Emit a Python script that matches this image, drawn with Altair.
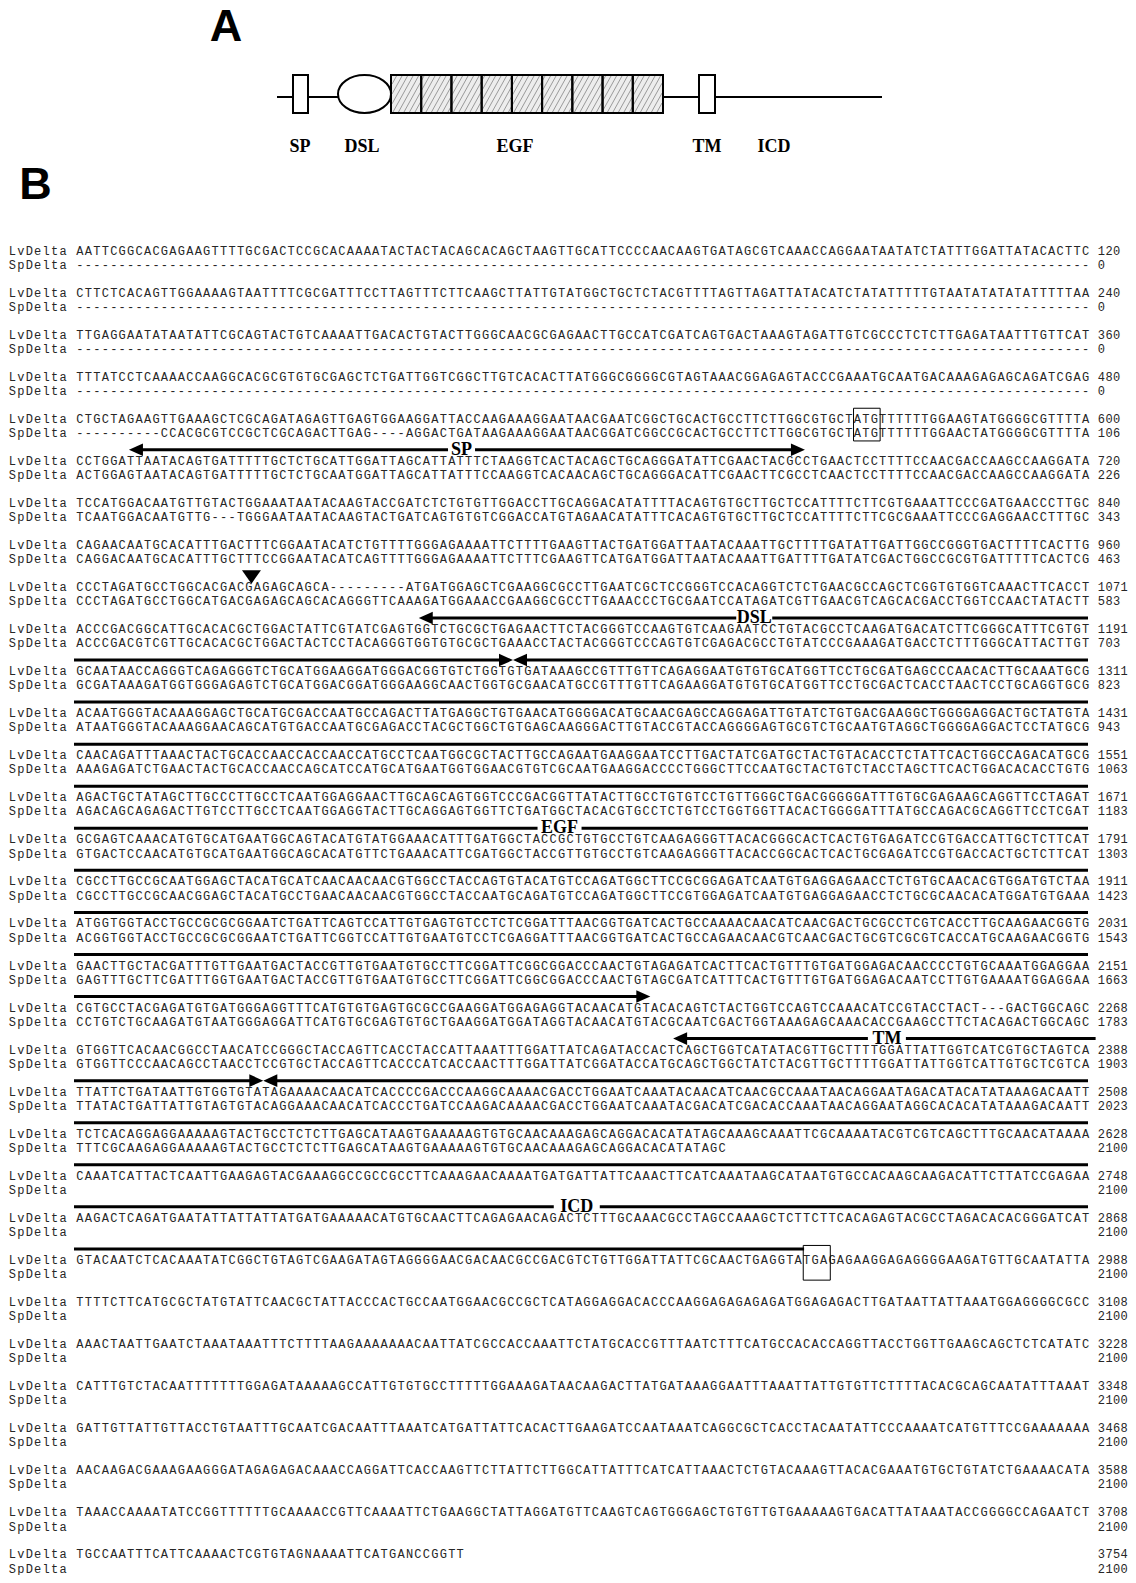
import altair as alt
import numpy as np
import pandas as pd

# ---------------------------------------------------------------- data
LV_SEQS = [
    "AATTCGGCACGAGAAGTTTTGCGACTCCGCACAAAATACTACTACAGCACAGCTAAGTTGCATTCCCCAACAAGTGATAGCGTCAAACCAGGAATAATATCTATTTGGATTATACACTTC",
    "CTTCTCACAGTTGGAAAAGTAATTTTCGCGATTTCCTTAGTTTCTTCAAGCTTATTGTATGGCTGCTCTACGTTTTAGTTAGATTATACATCTATATTTTTGTAATATATATATTTTTAA",
    "TTGAGGAATATAATATTCGCAGTACTGTCAAAATTGACACTGTACTTGGGCAACGCGAGAACTTGCCATCGATCAGTGACTAAAGTAGATTGTCGCCCTCTCTTGAGATAATTTGTTCAT",
    "TTTATCCTCAAAACCAAGGCACGCGTGTGCGAGCTCTGATTGGTCGGCTTGTCACACTTATGGGCGGGGCGTAGTAAACGGAGAGTACCCGAAATGCAATGACAAAGAGAGCAGATCGAG",
    "CTGCTAGAAGTTGAAAGCTCGCAGATAGAGTTGAGTGGAAGGATTACCAAGAAAGGAATAACGAATCGGCTGCACTGCCTTCTTGGCGTGCTATGTTTTTTGGAAGTATGGGGCGTTTTA",
    "CCTGGATTAATACAGTGATTTTTGCTCTGCATTGGATTAGCATTATTTCTAAGGTCACTACAGCTGCAGGGATATTCGAACTACGCCTGAACTCCTTTTCCAACGACCAAGCCAAGGATA",
    "TCCATGGACAATGTTGTACTGGAAATAATACAAGTACCGATCTCTGTGTTGGACCTTGCAGGACATATTTTACAGTGTGCTTGCTCCATTTTCTTCGTGAAATTCCCGATGAACCCTTGC",
    "CAGAACAATGCACATTTGACTTTCGGAATACATCTGTTTTGGGAGAAAATTCTTTTGAAGTTACTGATGGATTAATACAAATTGCTTTTGATATTGATTGGCCGGGTGACTTTTCACTTG",
    "CCCTAGATGCCTGGCACGACGAGAGCAGCA---------ATGATGGAGCTCGAAGGCGCCTTGAATCGCTCCGGGTCCACAGGTCTCTGAACGCCAGCTCGGTGTGGTCAAACTTCACCT",
    "ACCCGACGGCATTGCACACGCTGGACTATTCGTATCGAGTGGTCTGCGCTGAGAACTTCTACGGGTCCAAGTGTCAAGAATCCTGTACGCCTCAAGATGACATCTTCGGGCATTTCGTGT",
    "GCAATAACCAGGGTCAGAGGGTCTGCATGGAAGGATGGGACGGTGTCTGGTGTGATAAAGCCGTTTGTTCAGAGGAATGTGTGCATGGTTCCTGCGATGAGCCCAACACTTGCAAATGCG",
    "ACAATGGGTACAAAGGAGCTGCATGCGACCAATGCCAGACTTATGAGGCTGTGAACATGGGGACATGCAACGAGCCAGGAGATTGTATCTGTGACGAAGGCTGGGGAGGACTGCTATGTA",
    "CAACAGATTTAAACTACTGCACCAACCACCAACCATGCCTCAATGGCGCTACTTGCCAGAATGAAGGAATCCTTGACTATCGATGCTACTGTACACCTCTATTCACTGGCCAGACATGCG",
    "AGACTGCTATAGCTTGCCCTTGCCTCAATGGAGGAACTTGCAGCAGTGGTCCCGACGGTTATACTTGCCTGTGTCCTGTTGGGCTGACGGGGGATTTGTGCGAGAAGCAGGTTCCTAGAT",
    "GCGAGTCAAACATGTGCATGAATGGCAGTACATGTATGGAAACATTTGATGGCTACCGCTGTGCCTGTCAAGAGGGTTACACGGGCACTCACTGTGAGATCCGTGACCATTGCTCTTCAT",
    "CGCCTTGCCGCAATGGAGCTACATGCATCAACAACAACGTGGCCTACCAGTGTACATGTCCAGATGGCTTCCGCGGAGATCAATGTGAGGAGAACCTCTGTGCAACACGTGGATGTCTAA",
    "ATGGTGGTACCTGCCGCGCGGAATCTGATTCAGTCCATTGTGAGTGTCCTCTCGGATTTAACGGTGATCACTGCCAAAACAACATCAACGACTGCGCCTCGTCACCTTGCAAGAACGGTG",
    "GAACTTGCTACGATTTGTTGAATGACTACCGTTGTGAATGTGCCTTCGGATTCGGCGGACCCAACTGTAGAGATCACTTCACTGTTTGTGATGGAGACAACCCCTGTGCAAATGGAGGAA",
    "CGTGCCTACGAGATGTGATGGGAGGTTTCATGTGTGAGTGCGCCGAAGGATGGAGAGGTACAACATGTACACAGTCTACTGGTCCAGTCCAAACATCCGTACCTACT---GACTGGCAGC",
    "GTGGTTCACAACGGCCTAACATCCGGGCTACCAGTTCACCTACCATTAAATTTGGATTATCAGATACCACTCAGCTGGTCATATACGTTGCTTTTGGATTATTGGTCATCGTGCTAGTCA",
    "TTATTCTGATAATTGTGGTGTATAGAAAACAACATCACCCCGACCCAAGGCAAAACGACCTGGAATCAAATACAACATCAACGCCAAATAACAGGAATAGACATACATATAAAGACAATT",
    "TCTCACAGGAGGAAAAAGTACTGCCTCTCTTGAGCATAAGTGAAAAAGTGTGCAACAAAGAGCAGGACACATATAGCAAAGCAAATTCGCAAAATACGTCGTCAGCTTTGCAACATAAAA",
    "CAAATCATTACTCAATTGAAGAGTACGAAAGGCCGCCGCCTTCAAAGAACAAAATGATGATTATTCAAACTTCATCAAATAAGCATAATGTGCCACAAGCAAGACATTCTTATCCGAGAA",
    "AAGACTCAGATGAATATTATTATTATGATGAAAAACATGTGCAACTTCAGAGAACAGACTCTTTGCAAACGCCTAGCCAAAGCTCTTCTTCACAGAGTACGCCTAGACACACGGGATCAT",
    "GTACAATCTCACAAATATCGGCTGTAGTCGAAGATAGTAGGGGAACGACAACGCCGACGTCTGTTGGATTATTCGCAACTGAGGTATGAGAGAAGGAGAGGGGAAGATGTTGCAATATTA",
    "TTTTCTTCATGCGCTATGTATTCAACGCTATTACCCACTGCCAATGGAACGCCGCTCATAGGAGGACACCCAAGGAGAGAGAGATGGAGAGACTTGATAATTATTAAATGGAGGGGCGCC",
    "AAACTAATTGAATCTAAATAAATTTCTTTTAAGAAAAAAACAATTATCGCCACCAAATTCTATGCACCGTTTAATCTTTCATGCCACACCAGGTTACCTGGTTGAAGCAGCTCTCATATC",
    "CATTTGTCTACAATTTTTTTGGAGATAAAAAGCCATTGTGTGCCTTTTTGGAAAGATAACAAGACTTATGATAAAGGAATTTAAATTATTGTGTTCTTTTACACGCAGCAATATTTAAAT",
    "GATTGTTATTGTTACCTGTAATTTGCAATCGACAATTTAAATCATGATTATTCACACTTGAAGATCCAATAAATCAGGCGCTCACCTACAATATTCCCAAAATCATGTTTCCGAAAAAAA",
    "AACAAGACGAAAGAAGGGATAGAGAGACAAACCAGGATTCACCAAGTTCTTATTCTTGGCATTATTTCATCATTAAACTCTGTACAAAGTTACACGAAATGTGCTGTATCTGAAAACATA",
    "TAAACCAAAATATCCGGTTTTTTGCAAAACCGTTCAAAATTCTGAAGGCTATTAGGATGTTCAAGTCAGTGGGAGCTGTGTTGTGAAAAAGTGACATTATAAATACCGGGGCCAGAATCT",
    "TGCCAATTTCATTCAAAACTCGTGTAGNAAAATTCATGANCCGGTT",
]
GAP_ROW = "-" * 120
SP_SEQS = [
    GAP_ROW, GAP_ROW, GAP_ROW, GAP_ROW,
    "----------CCACGCGTCCGCTCGCAGACTTGAG----AGGACTGATAAGAAAGGAATAACGGATCGGCCGCACTGCCTTCTTGGCGTGCTATGTTTTTTGGAACTATGGGGCGTTTTA",
    "ACTGGAGTAATACAGTGATTTTTGCTCTGCAATGGATTAGCATTATTTCCAAGGTCACAACAGCTGCAGGGACATTCGAACTTCGCCTCAACTCCTTTTCCAACGACCAAGCCAAGGATA",
    "TCAATGGACAATGTTG---TGGGAATAATACAAGTACTGATCAGTGTGTCGGACCATGTAGAACATATTTCACAGTGTGCTTGCTCCATTTTCTTCGCGAAATTCCCGAGGAACCTTTGC",
    "CAGGACAATGCACATTTGCTTTCCGGAATACATCAGTTTTGGGAGAAAATTCTTTCGAAGTTCATGATGGATTAATACAAATTGATTTTGATATCGACTGGCCGCGTGATTTTTCACTCG",
    "CCCTAGATGCCTGGCATGACGAGAGCAGCACAGGGTTCAAAGATGGAAACCGAAGGCGCCTTGAAACCCTGCGAATCCATAGATCGTTGAACGTCAGCACGACCTGGTCCAACTATACTT",
    "ACCCGACGTCGTTGCACACGCTGGACTACTCCTACAGGGTGGTGTGCGCTGAAACCTACTACGGGTCCCAGTGTCGAGACGCCTGTATCCCGAAAGATGACCTCTTTGGGCATTACTTGT",
    "GCGATAAAGATGGTGGGAGAGTCTGCATGGACGGATGGGAAGGCAACTGGTGCGAACATGCCGTTTGTTCAGAAGGATGTGTGCATGGTTCCTGCGACTCACCTAACTCCTGCAGGTGCG",
    "ATAATGGGTACAAAGGAACAGCATGTGACCAATGCGAGACCTACGCTGGCTGTGAGCAAGGGACTTGTACCGTACCAGGGGAGTGCGTCTGCAATGTAGGCTGGGGAGGACTCCTATGCG",
    "AAAGAGATCTGAACTACTGCACCAACCAGCATCCATGCATGAATGGTGGAACGTGTCGCAATGAAGGACCCCTGGGCTTCCAATGCTACTGTCTACCTAGCTTCACTGGACACACCTGTG",
    "AGACAGCAGAGACTTGTCCTTGCCTCAATGGAGGTACTTGCAGGAGTGGTTCTGATGGCTACACGTGCCTCTGTCCTGGTGGTTACACTGGGGATTTATGCCAGACGCAGGTTCCTCGAT",
    "GTGACTCCAACATGTGCATGAATGGCAGCACATGTTCTGAAACATTCGATGGCTACCGTTGTGCCTGTCAAGAGGGTTACACCGGCACTCACTGCGAGATCCGTGACCACTGCTCTTCAT",
    "CGCCTTGCCGCAACGGAGCTACATGCCTGAACAACAACGTGGCCTACCAATGCAGATGTCCAGATGGCTTCCGTGGAGATCAATGTGAGGAGAACCTCTGCGCAACACATGGATGTGAAA",
    "ACGGTGGTACCTGCCGCGCGGAATCTGATTCGGTCCATTGTGAATGTCCTCGAGGATTTAACGGTGATCACTGCCAGAACAACGTCAACGACTGCGTCGCGTCACCATGCAAGAACGGTG",
    "GAGTTTGCTTCGATTTGGTGAATGACTACCGTTGTGAATGTGCCTTCGGATTCGGCGGACCCAACTGTAGCGATCATTTCACTGTTTGTGATGGAGACAATCCTTGTGAAAATGGAGGAA",
    "CCTGTCTGCAAGATGTAATGGGAGGATTCATGTGCGAGTGTGCTGAAGGATGGATAGGTACAACATGTACGCAATCGACTGGTAAAGAGCAAACACCGAAGCCTTCTACAGACTGGCAGC",
    "GTGGTTCCCAACAGCCTAACCTCCGTGCTACCAGTTCACCCATCACCAACTTTGGATTATCGGATACCATGCAGCTGGCTATCTACGTTGCTTTTGGATTATTGGTCATTGTGCTCGTCA",
    "TTATACTGATTATTGTAGTGTACAGGAAACAACATCACCCTGATCCAAGACAAAACGACCTGGAATCAAATACGACATCGACACCAAATAACAGGAATAGGCACACATATAAAGACAATT",
    "TTTCGCAAGAGGAAAAAGTACTGCCTCTCTTGAGCATAAGTGAAAAAGTGTGCAACAAAGAGCAGGACACATATAGC",
    "", "", "", "", "", "", "", "", "", "",
]
LV_ENDS = [120, 240, 360, 480, 600, 720, 840, 960, 1071, 1191, 1311, 1431, 1551, 1671,
           1791, 1911, 2031, 2151, 2268, 2388, 2508, 2628, 2748, 2868, 2988, 3108, 3228,
           3348, 3468, 3588, 3708, 3754]
SP_ENDS = [0, 0, 0, 0, 106, 226, 343, 463, 583, 703, 823, 943, 1063, 1183, 1303, 1423,
           1543, 1663, 1783, 1903, 2023, 2100, 2100, 2100, 2100, 2100, 2100, 2100, 2100,
           2100, 2100, 2100]
SEQ_NAMES = ["LvDelta", "SpDelta"]

# annotation bars under a block: block, from col, to col, left head, right head, label, label col
ANNOT_BLOCK = [5, 9, 10, 10, 11, 12, 13, 14, 15, 16, 17, 18, 19, 20, 20, 21, 22, 23, 24]
ANNOT_FROM = [6.3, 40.6, -0.2, 51.75, -0.2, -0.2, -0.2, -0.2, -0.2, -0.2, -0.2, -0.2,
              70.7, -0.2, 22.2, -0.2, -0.2, -0.2, -0.2]
ANNOT_TO = [86.3, 119.8, 51.75, 119.8, 119.8, 119.8, 119.8, 119.8, 119.8, 119.8, 119.8,
            68.0, 120.7, 22.2, 119.8, 119.8, 119.8, 119.8, 86.2]
ANNOT_HEAD_L = [1, 1, 0, 1, 0, 0, 0, 0, 0, 0, 0, 0, 1, 0, 1, 0, 0, 0, 0]
ANNOT_HEAD_R = [1, 0, 1, 0, 0, 0, 0, 0, 0, 0, 0, 1, 0, 1, 0, 0, 0, 0, 0]
ANNOT_LABEL = ["SP", "DSL", "", "", "", "", "", "EGF", "", "", "", "", "TM", "", "", "", "", "ICD", ""]
ANNOT_LABEL_COL = [45.66, 80.3, 0, 0, 0, 0, 0, 57.26, 0, 0, 0, 0, 96.0, 0, 0, 0, 0, 59.3, 0]
LABEL_GAP = {"SP": 13.5, "DSL": 18, "EGF": 22, "TM": 19, "ICD": 23}

# boxed codons (start ATG, stop TGA)
BOX_BLOCK = [5, 25]
BOX_FROM = [92.05, 86.1]
BOX_TO = [95.2, 89.3]
BOX_TOP = [-10.5, -14.5]
BOX_BOTTOM = [8.0, 6.0]
# marker triangle
MARK_BLOCK = [9]
MARK_COL = [20.8]

# panel A: domain diagram (page pixels)
BACKBONE_X = [277, 882]
BACKBONE_Y = 97
DOM_BOX_NAME = ["SP", "EGF", "TM"]
DOM_BOX_X0 = [293, 391, 699]
DOM_BOX_X1 = [308, 663, 715]
DOM_TOP, DOM_BOTTOM = 75, 113
EGF_REPEATS = 9
DSL_CENTER = (364.5, 94)
DSL_SIZE = (53, 38)
DOM_LABELS = ["SP", "DSL", "EGF", "TM", "ICD"]
DOM_LABEL_X = [300, 362, 515, 707, 774]
DOM_LABEL_Y = 152
PANEL_LETTERS = ["A", "B"]
PANEL_X = [226, 35.5]
PANEL_Y = [41, 199]

# ---------------------------------------------------------------- layout
W, H = 1120, 1567
CW = 8.45            # character advance
X0 = 8.1             # left edge of the row labels
SEQ_COL = 8
NUM_X0, NUM_CW = 1097.6, 7.6   # residue counts, kept inside the drawing
ROW0, ROWSTEP, SPOFF, ANN_OFF = 250.5, 42.06, 14.2, 31.0
HEAD = 14.0

MONO = "Liberation Mono"
SERIF = "Liberation Serif"
SANS = "Liberation Sans"
INK = "#262626"

XS = alt.Scale(domain=[8, 8 + W], nice=False, zero=False)
YS = alt.Scale(domain=[8, 8 + H], nice=False, zero=False, reverse=True)


def X(f):
    return alt.X(f"{f}:Q", scale=XS, axis=None)


def Y(f):
    return alt.Y(f"{f}:Q", scale=YS, axis=None)


def cx(c):
    return X0 + (c + 0.5) * CW


def sx(col):
    return X0 + SEQ_COL * CW + col * CW


def lv_y(block):
    return ROW0 + (block - 1) * ROWSTEP


# characters of the alignment
chars = []
for k in range(len(LV_SEQS)):
    ylv = lv_y(k + 1)
    rows = ((SEQ_NAMES[0], LV_SEQS[k], LV_ENDS[k], ylv),
            (SEQ_NAMES[1], SP_SEQS[k], SP_ENDS[k], ylv + SPOFF))
    for name, seq, end, y in rows:
        for i, ch in enumerate(name):
            chars.append((cx(i), y, ch))
        for i, ch in enumerate(seq):
            chars.append((cx(SEQ_COL + i), y, ch))
        for i, ch in enumerate(str(end)):
            chars.append((NUM_X0 + (i + 0.5) * NUM_CW, y, ch))
chars_df = pd.DataFrame(chars, columns=["x", "y", "t"])

# annotation bars
segs, heads_l, heads_r, labs = [], [], [], []
for b, c0, c1, hl, hr, lab, lc in zip(ANNOT_BLOCK, ANNOT_FROM, ANNOT_TO, ANNOT_HEAD_L,
                                      ANNOT_HEAD_R, ANNOT_LABEL, ANNOT_LABEL_COL):
    y = lv_y(b) + ANN_OFF
    xa, xb = sx(c0), sx(c1)
    if hl:
        heads_l.append((xa + HEAD / 2, y))
        xa += HEAD - 4
    if hr:
        heads_r.append((xb - HEAD / 2, y))
        xb -= HEAD - 4
    if lab:
        xm = sx(lc)
        g = LABEL_GAP[lab]
        segs += [(xa, xm - g, y), (xm + g, xb, y)]
        labs.append((xm, y, lab))
    else:
        segs.append((xa, xb, y))
segs_df = pd.DataFrame(segs, columns=["x", "x1", "y"])
hl_df = pd.DataFrame(heads_l, columns=["x", "y"])
hr_df = pd.DataFrame(heads_r, columns=["x", "y"])
labs_df = pd.DataFrame(labs, columns=["x", "y", "t"])

boxes_df = pd.DataFrame({
    "x": [sx(v) for v in BOX_FROM],
    "x1": [sx(v) for v in BOX_TO],
    "y": [lv_y(b) + t for b, t in zip(BOX_BLOCK, BOX_TOP)],
    "y1": [lv_y(b) + SPOFF + t for b, t in zip(BOX_BLOCK, BOX_BOTTOM)],
})
mark_df = pd.DataFrame({"x": [sx(c) for c in MARK_COL],
                        "y": [lv_y(b) - 10 for b in MARK_BLOCK]})

# panel A pieces
backbone_df = pd.DataFrame({"x": [BACKBONE_X[0]], "x1": [BACKBONE_X[1]], "y": [BACKBONE_Y]})
dom_df = pd.DataFrame({"x": DOM_BOX_X0, "x1": DOM_BOX_X1,
                       "y": [DOM_TOP] * 3, "y1": [DOM_BOTTOM] * 3, "n": DOM_BOX_NAME})
egf_x0, egf_x1 = DOM_BOX_X0[1], DOM_BOX_X1[1]
edges = np.linspace(egf_x0, egf_x1, EGF_REPEATS + 1)
egf_seg_df = pd.DataFrame({"x": edges[:-1], "x1": edges[1:],
                           "y": [DOM_TOP] * EGF_REPEATS, "y1": [DOM_BOTTOM] * EGF_REPEATS})
hatch = []
hh = DOM_BOTTOM - DOM_TOP
hdx = 20.0
for xb in np.arange(egf_x0 - hdx, egf_x1, 5.5):
    t0 = max(0.0, (egf_x0 + 1 - xb) / hdx)
    t1 = min(1.0, (egf_x1 - 1 - xb) / hdx)
    if t1 <= t0:
        continue
    hatch.append((xb + hdx * t0, DOM_BOTTOM - 1 - (hh - 2) * t0,
                  xb + hdx * t1, DOM_BOTTOM - 1 - (hh - 2) * t1))
hatch_df = pd.DataFrame(hatch, columns=["x", "y", "x1", "y1"])
dsl_df = pd.DataFrame({"x": [DSL_CENTER[0]], "y": [DSL_CENTER[1]]})
dom_lab_df = pd.DataFrame({"x": DOM_LABEL_X, "y": [DOM_LABEL_Y] * 5, "t": DOM_LABELS})
panel_df = pd.DataFrame({"x": PANEL_X, "y": PANEL_Y, "t": PANEL_LETTERS})

# ---------------------------------------------------------------- layers
ry = DSL_SIZE[1] / DSL_SIZE[0]
ELLIPSE = f"M-1,0A1,{ry:.4f},0,1,0,1,0A1,{ry:.4f},0,1,0,-1,0Z"
HEAD_R = "M-1,-0.9L1,0L-1,0.9Z"
HEAD_L = "M1,-0.9L-1,0L1,0.9Z"
TRI_DOWN = "M-1,-0.7L1,-0.7L0,0.7Z"

layers = [
    # panel letters
    alt.Chart(panel_df).mark_text(font=SANS, fontWeight="bold", fontSize=45, align="center",
                                  baseline="alphabetic", color="black")
    .encode(x=X("x"), y=Y("y"), text="t:N"),
    # panel A
    alt.Chart(backbone_df).mark_rule(strokeWidth=2, color="black")
    .encode(x=X("x"), x2="x1:Q", y=Y("y")),
    alt.Chart(dom_df).mark_rect(fill="white", stroke="black", strokeWidth=2)
    .encode(x=X("x"), x2="x1:Q", y=Y("y"), y2="y1:Q"),
    alt.Chart(egf_seg_df).mark_rect(fill="#ededed", stroke="black", strokeWidth=0)
    .encode(x=X("x"), x2="x1:Q", y=Y("y"), y2="y1:Q"),
    alt.Chart(hatch_df).mark_rule(strokeWidth=1, color="#9a9a9a")
    .encode(x=X("x"), x2="x1:Q", y=Y("y"), y2="y1:Q"),
    alt.Chart(egf_seg_df).mark_rect(fill="white", fillOpacity=0, stroke="black", strokeWidth=2)
    .encode(x=X("x"), x2="x1:Q", y=Y("y"), y2="y1:Q"),
    alt.Chart(dsl_df).mark_point(shape=ELLIPSE, size=DSL_SIZE[0] ** 2, filled=True, fill="white",
                                 stroke="black", strokeWidth=2, opacity=1)
    .encode(x=X("x"), y=Y("y")),
    alt.Chart(dom_lab_df).mark_text(font=SERIF, fontWeight="bold", fontSize=18, align="center",
                                    baseline="alphabetic", color="black")
    .encode(x=X("x"), y=Y("y"), text="t:N"),
    # panel B alignment text
    alt.Chart(chars_df).mark_text(font=MONO, fontSize=12, align="center", baseline="middle",
                                  color=INK)
    .encode(x=X("x"), y=Y("y"), text="t:N"),
    # annotation bars
    alt.Chart(segs_df).mark_rule(strokeWidth=3, color="black")
    .encode(x=X("x"), x2="x1:Q", y=Y("y")),
    alt.Chart(hl_df).mark_point(shape=HEAD_L, size=HEAD ** 2, filled=True, color="black",
                                opacity=1, strokeWidth=0)
    .encode(x=X("x"), y=Y("y")),
    alt.Chart(hr_df).mark_point(shape=HEAD_R, size=HEAD ** 2, filled=True, color="black",
                                opacity=1, strokeWidth=0)
    .encode(x=X("x"), y=Y("y")),
    alt.Chart(labs_df).mark_text(font=SERIF, fontWeight="bold", fontSize=18, align="center",
                                 baseline="middle", color="black")
    .encode(x=X("x"), y=Y("y"), text="t:N"),
    alt.Chart(boxes_df).mark_rect(fill="white", fillOpacity=0, stroke="black", strokeWidth=1)
    .encode(x=X("x"), x2="x1:Q", y=Y("y"), y2="y1:Q"),
    alt.Chart(mark_df).mark_point(shape=TRI_DOWN, size=361, filled=True, color="black",
                                  opacity=1, strokeWidth=0)
    .encode(x=X("x"), y=Y("y")),
]

chart = (
    alt.layer(*layers)
    .properties(width=W, height=H, padding=0, background="white",
                autosize=alt.AutoSizeParams(type="none"))
    .configure_view(strokeWidth=0)
)

chart.save("out.html", embed_options={"renderer": "svg", "actions": False})
